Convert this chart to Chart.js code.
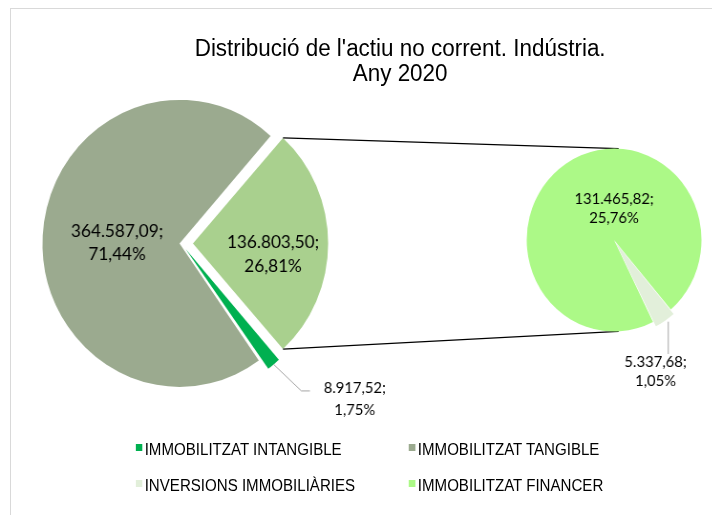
<!DOCTYPE html>
<html><head><meta charset="utf-8">
<script src="https://cdn.jsdelivr.net/npm/chart.js@4.4.1/dist/chart.umd.min.js"></script>
<style>
html,body{margin:0;padding:0;background:#fff;}
#wrap{position:relative;width:712px;height:515px;overflow:hidden;background:#fff;}
#frame{position:absolute;left:10px;top:8px;width:800px;height:600px;border:1px solid #d9d9d9;}
#inner{position:absolute;left:0;top:0;width:760px;height:515px;transform:scaleX(0.955);transform-origin:0 0;}
canvas{position:absolute;left:0;top:0;}
#title{position:absolute;left:0;top:36px;width:838px;text-align:center;font-family:"Liberation Sans",Arial,sans-serif;font-size:23.5px;line-height:24.5px;color:#000;white-space:nowrap;}
.lg{position:absolute;font-family:"Liberation Sans",Arial,sans-serif;font-size:15.8px;line-height:16px;color:#000;white-space:nowrap;}
.sw{position:absolute;width:7.5px;height:7px;}
</style></head>
<body><div id="wrap"><div id="frame"></div>
<div id="inner">
<canvas id="c1" width="760" height="515"></canvas>
<canvas id="c2" width="760" height="515"></canvas>
<div id="title"></div>
<div id="legend"></div>
</div>
</div>
<script>
// ---- data ----
const titleLines = ["Distribució de l'actiu no corrent. Indústria.", "Any 2020"];
const categories = ['IMMOBILITZAT INTANGIBLE', 'IMMOBILITZAT TANGIBLE', 'INVERSIONS IMMOBILIÀRIES', 'IMMOBILITZAT FINANCER'];
const values = [8917.52, 364587.09, 5337.68, 131465.82];
const colors = ['#00B050', '#9BAA8F', '#E2EFDA', '#ACF987'];
const otherColor = '#A9D08E';

const total = values.reduce((a, b) => a + b, 0);
const otherValue = values[2] + values[3];

function fmt(v) {
  const parts = v.toFixed(2).split('.');
  return parts[0].replace(/\B(?=(\d{3})+(?!\d))/g, '.') + ',' + parts[1];
}
function pct(v) { return (v / total * 100).toFixed(2).replace('.', ',') + '%'; }

// title & legend (real text)
document.getElementById('title').innerHTML = titleLines.join('<br>');
const legendSlots = [[141.5, 444], [427.5, 444], [141.5, 480], [427.5, 480]];
const lg = document.getElementById('legend');
categories.forEach((c, i) => {
  const [x, y] = legendSlots[i];
  const sw = document.createElement('div');
  sw.className = 'sw'; sw.style.left = x + 'px'; sw.style.top = y + 'px'; sw.style.background = colors[i];
  lg.appendChild(sw);
  const t = document.createElement('div');
  t.className = 'lg'; t.style.left = (x + 10) + 'px'; t.style.top = (y - 2.5) + 'px'; t.textContent = c;
  lg.appendChild(t);
});

const FONT = 'Lato, "Noto Sans", sans-serif';

function arcGeom(chart, index) {
  const meta = chart.getDatasetMeta(0);
  const arc = meta.data[index];
  const p = arc.getProps(['x', 'y', 'startAngle', 'endAngle', 'outerRadius'], true);
  const o = arc.options.offset || 0;
  const mid = (p.startAngle + p.endAngle) / 2;
  const tr = o / 4;
  const fix = 1 - Math.sin(Math.min(Math.PI, p.endAngle - p.startAngle));
  return {
    cx: p.x + Math.cos(mid) * tr, cy: p.y + Math.sin(mid) * tr,
    R: p.outerRadius + tr * fix, r0: p.outerRadius, mid, start: p.startAngle, end: p.endAngle
  };
}

const labelPlugin = {
  id: 'pieLabels',
  afterDatasetsDraw(chart, args, opts) {
    const ctx = chart.ctx;
    const ds = chart.data.datasets[0];
    ctx.save();
    opts.items.forEach(it => {
      const g = arcGeom(chart, it.index);
      const lines = [fmt(ds.data[it.index]) + ';', pct(ds.data[it.index])];
      let bx, by;
      if (it.leader) {
        const tx = g.cx + Math.cos(g.mid) * g.R, ty = g.cy + Math.sin(g.mid) * g.R;
        ctx.strokeStyle = '#A6A6A6'; ctx.lineWidth = 1;
        ctx.beginPath();
        it.leader.forEach((pt, k) => { const X = tx + pt[0], Y = ty + pt[1]; k ? ctx.lineTo(X, Y) : ctx.moveTo(X, Y); });
        ctx.stroke();
        bx = tx + it.dx; by = ty + it.dy;
      } else {
        const a = it.angle !== undefined ? it.angle * Math.PI / 180 : g.mid;
        bx = g.cx + Math.cos(a) * g.r0 * it.frac; by = g.cy + Math.sin(a) * g.r0 * it.frac + (it.dy || 0);
      }
      ctx.fillStyle = '#000';
      ctx.font = it.size + 'px ' + FONT;
      ctx.textAlign = 'center'; ctx.textBaseline = 'alphabetic';
      lines.forEach((s, k) => {
        const cyL = by + (k - (lines.length - 1) / 2) * it.lh;
        ctx.fillText(s, bx, cyL + it.size * 0.36);
      });
    });
    ctx.restore();
  }
};

// ---- main pie ----
const mainValues = [otherValue, values[0], values[1]];
const chart1 = new Chart(document.getElementById('c1'), {
  type: 'pie',
  data: {
    labels: ['Altres', categories[0], categories[1]],
    datasets: [{
      data: mainValues,
      backgroundColor: [otherColor, colors[0], colors[1]],
      borderWidth: 0,
      offset: [48, 28, 8],
      hoverOffset: 0
    }]
  },
  options: {
    responsive: false, animation: false, devicePixelRatio: 1, events: [],
    radius: 141.5,
    rotation: 90 - otherValue / total * 180,
    layout: { padding: { left: 0, top: 0, right: 380, bottom: 28 } },
    plugins: {
      legend: { display: false }, tooltip: { enabled: false }, title: { display: false },
      pieLabels: {
        items: [
          { index: 0, frac: 0.593, dy: 10, lh: 24, size: 18 },
          { index: 2, frac: 0.463, dy: 2.3, lh: 23.5, size: 18 },
          { index: 1, leader: [[0, 0], [29, 26.5], [38, 26.5]], dx: 85, dy: 34, lh: 21.5, size: 15.5 }
        ]
      }
    }
  },
  plugins: [labelPlugin]
});

// ---- secondary pie ----
const connectorPlugin = {
  id: 'connectors',
  beforeDatasetsDraw(chart) {
    const ctx = chart.ctx;
    const g1 = arcGeom(chart1, 0);
    const g2 = arcGeom(chart, 1);
    const a2 = 87 * Math.PI / 180;
    const arc2 = chart.getDatasetMeta(0).data[1];
    ctx.save();
    ctx.strokeStyle = '#000'; ctx.lineWidth = 1.3;
    ctx.beginPath();
    ctx.moveTo(g1.cx + Math.cos(g1.start) * g1.R, g1.cy + Math.sin(g1.start) * g1.R);
    ctx.lineTo(arc2.x + Math.cos(-a2) * g2.r0, arc2.y + Math.sin(-a2) * g2.r0);
    ctx.moveTo(g1.cx + Math.cos(g1.end) * g1.R, g1.cy + Math.sin(g1.end) * g1.R);
    ctx.lineTo(arc2.x + Math.cos(a2) * g2.r0, arc2.y + Math.sin(a2) * g2.r0);
    ctx.stroke();
    ctx.restore();
  }
};

const chart2 = new Chart(document.getElementById('c2'), {
  type: 'pie',
  data: {
    labels: [categories[2], categories[3]],
    datasets: [{
      data: [values[2], values[3]],
      backgroundColor: [colors[2], colors[3]],
      borderWidth: 0,
      offset: [12, 0],
      hoverOffset: 0
    }]
  },
  options: {
    responsive: false, animation: false, devicePixelRatio: 1, events: [],
    radius: 91.5,
    rotation: 139.5,
    layout: { padding: { left: 526, top: 0, right: 0, bottom: 35 } },
    plugins: {
      legend: { display: false }, tooltip: { enabled: false }, title: { display: false },
      pieLabels: {
        items: [
          { index: 1, angle: -90, frac: 0.352, dy: 0, lh: 19.5, size: 15.5 },
          { index: 0, leader: [[3.4, 1], [3.4, 33.3]], dx: -10, dy: 50.3, lh: 18.5, size: 15.5 }
        ]
      }
    }
  },
  plugins: [connectorPlugin, labelPlugin]
});
</script>
</body></html>
